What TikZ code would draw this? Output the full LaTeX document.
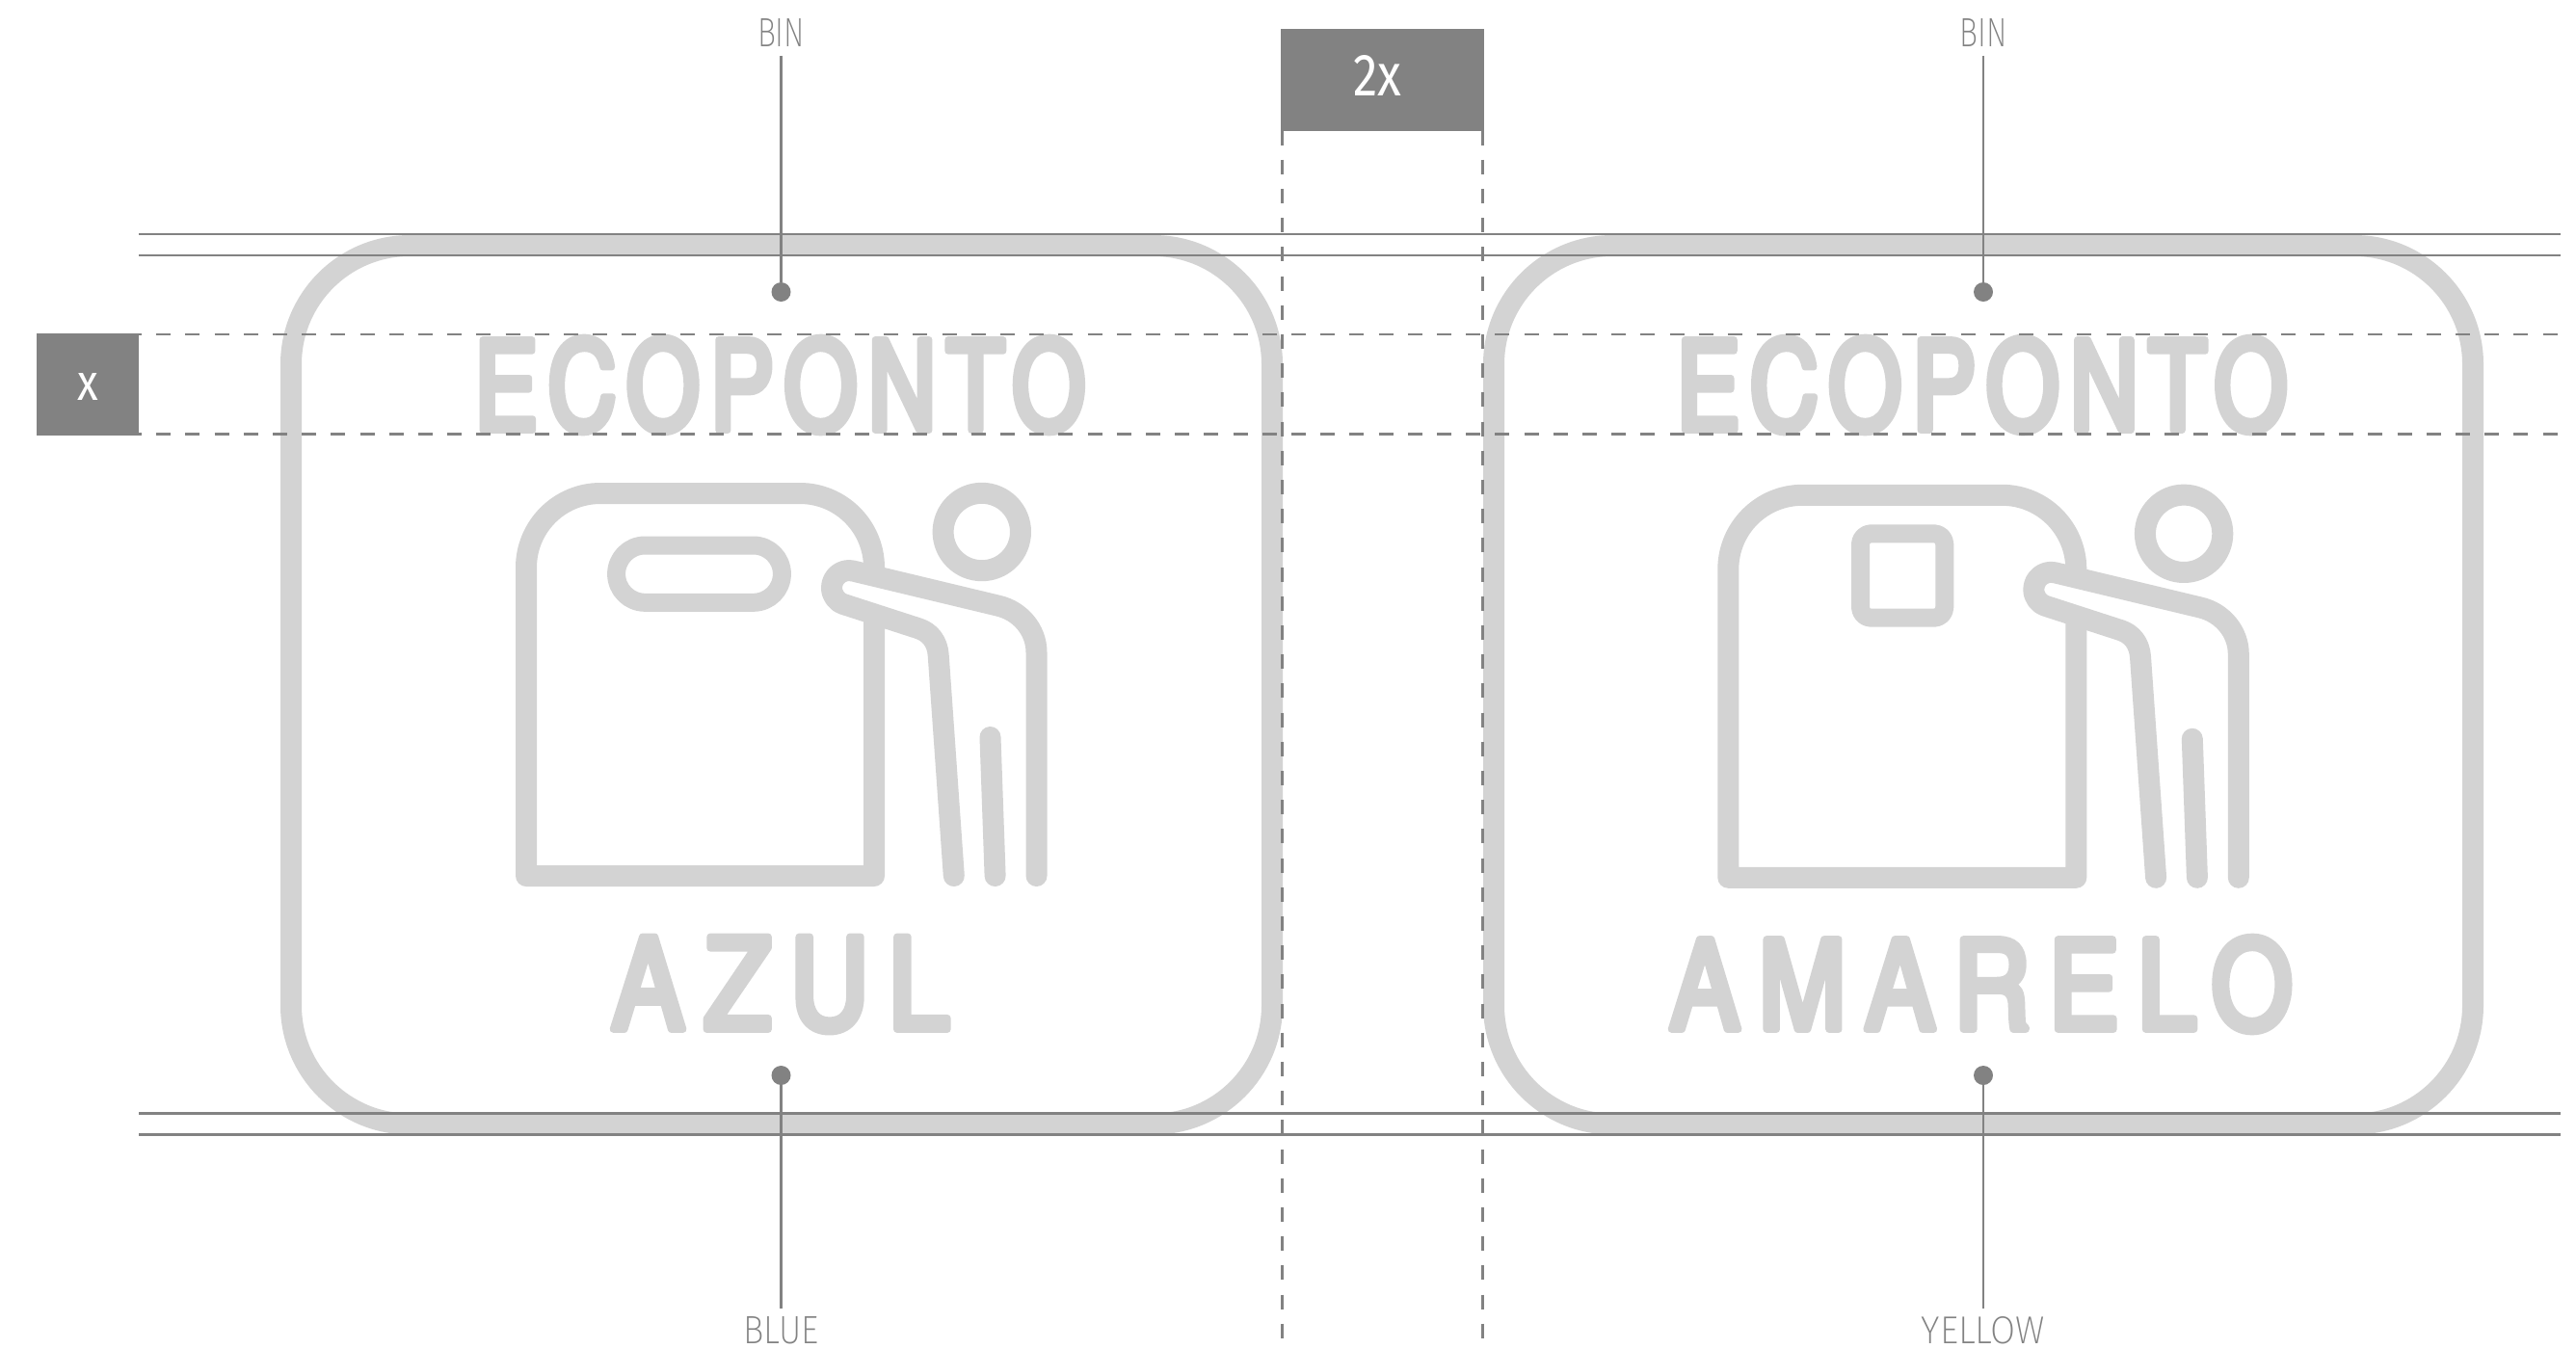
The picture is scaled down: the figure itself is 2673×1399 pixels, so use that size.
\documentclass[tikz,border=0pt]{standalone}
\usepackage{fontspec}
\setmainfont{Fira Sans}
\newfontfamily\thinf[UprightFont=* ExtraLight]{Fira Sans}
\newfontfamily\lightf{Fira Sans}
\newfontfamily\ecof[FakeBold=5.5,LetterSpace=9]{TeX Gyre Heros Cn}
\newfontfamily\colf[FakeBold=5.5,LetterSpace=15]{TeX Gyre Heros Cn}
\definecolor{guide}{HTML}{828282}
\definecolor{pale}{HTML}{D3D3D3}
\tikzset{
  solidguide/.style={draw=guide,line width=1.3pt},
  dashguide/.style={draw=guide,line width=1.3pt,dash pattern=on 7.5pt off 7.6pt},
  paleline/.style={draw=pale,line width=11pt,line join=round,line cap=round},
  thinline/.style={draw=pale,line width=9.5pt,line join=round},
  wordmark/.style={inner sep=0pt,text=pale,line join=round},
  caption/.style={inner sep=0pt,outer ysep=4.5pt,text=guide},
  darkbox/.style={fill=guide,draw=none,inner sep=0pt},
  pinhead/.style={circle,fill=guide,draw=none,inner sep=0pt,minimum size=10pt},
  pin/.style={draw=guide,line width=1.1pt},
  binicon/.pic={
    \draw[paleline] (546,909) -- (546,589) .. controls (546,546.5) and (580.5,512) .. (623,512)
      -- (830,512) .. controls (872.5,512) and (907,546.5) .. (907,589) -- (907,909) -- cycle;
    \fill[white] (885.1,592.5) -- (1036,628.7) -- (1075.5,677) -- (1075.5,909) -- (989.8,909) -- (973,680) -- (953,652.2) -- (875.5,627.1) -- cycle;
    \fill[white] (881,610) circle [radius=9pt];
    \draw[paleline] (1075.5,909) -- (1075.5,677)
      .. controls (1075.5,653.8) and (1058.6,634) .. (1036,628.7)
      -- (885.1,592.5)
      .. controls (873.8,589.85) and (863,598.4) .. (863,610)
      .. controls (863,617.8) and (868.1,624.7) .. (875.5,627.1)
      -- (953,652.2)
      .. controls (965,656) and (972.8,666) .. (973.7,680)
      -- (989.8,909);
    \draw[paleline] (1027.5,765) -- (1032.6,909);
    \draw[paleline] (1018.8,552) circle [radius=20.1pt];
  }
}
\begin{document}
\begin{tikzpicture}[x=0.5pt,y=-0.5pt]
\useasboundingbox (0,0) rectangle (2673,1399);
% frames
\draw[paleline,rounded corners=61.5pt] (302,255) rectangle (1320,1166.5);
\draw[paleline,rounded corners=61.5pt] (1550,255) rectangle (2566,1166.5);
% icons
\pic at (0,0) {binicon};
\pic at (1247.3,1.8) {binicon};
\draw[thinline,rounded corners=14.8pt] (639.6,566) rectangle (811.4,625.3);
\draw[thinline,rounded corners=5.5pt] (1930.5,553.8) rectangle (2017.8,641.2);
% words
\node[wordmark] (ecoA) at (809.5,399.5) {\resizebox{317pt}{48pt}{\ecof ECOPONTO}};
\node[wordmark] (ecoB) at (2056.8,399.5) {\resizebox{317pt}{48pt}{\ecof ECOPONTO}};
\node[wordmark] (azul) at (810,1021.5) {\resizebox{175pt}{48pt}{\colf AZUL}};
\node[wordmark] (amarelo) at (2056,1021.5) {\resizebox{323pt}{48pt}{\colf AMARELO}};
% guides
\draw[solidguide] (144,243) -- (2656.7,243);
\draw[solidguide] (144,265) -- (2656.7,265);
\draw[solidguide] (144,1155.5) -- (2656.7,1155.5);
\draw[solidguide] (144,1177.7) -- (2656.7,1177.7);
\draw[dashguide] (132,346.8) -- (2656.7,346.8);
\draw[dashguide] (132,450.3) -- (2656.7,450.3);
\draw[dashguide] (1330.3,135.5) -- (1330.3,1390);
\draw[dashguide] (1538.7,135.5) -- (1538.7,1390);
% boxes
\node[darkbox,minimum width=53pt,minimum height=53pt] (xbox) at (91,399) {};
\node[inner sep=0pt,text=white] (xlabel) at (91.2,401) {\resizebox{10.8pt}{14pt}{\lightf x}};
\node[darkbox,minimum width=105.4pt,minimum height=53.2pt] (twobox) at (1434.6,83.2) {};
\node[inner sep=0pt,text=white] (twolabel) at (1429,78) {\resizebox{25pt}{21pt}{\lightf 2x}};
% pins
\node[caption] (binA) at (810.5,34) {\resizebox{24.5pt}{14.5pt}{\thinf BIN}};
\node[caption] (binB) at (2058,34) {\resizebox{24.5pt}{14.5pt}{\thinf BIN}};
\node[caption] (blue) at (810.5,1381) {\resizebox{39.3pt}{14pt}{\thinf BLUE}};
\node[caption] (yellow) at (2058,1381) {\resizebox{64.2pt}{14pt}{\thinf YELLOW}};
\node[pinhead] (dotA) at (810.5,303) {};
\node[pinhead] (dotB) at (2058,303) {};
\node[pinhead] (dotC) at (810.5,1116) {};
\node[pinhead] (dotD) at (2058,1116) {};
\draw[pin] (binA) -- (dotA);
\draw[pin] (binB) -- (dotB);
\draw[pin] (blue) -- (dotC);
\draw[pin] (yellow) -- (dotD);
\end{tikzpicture}
\end{document}
